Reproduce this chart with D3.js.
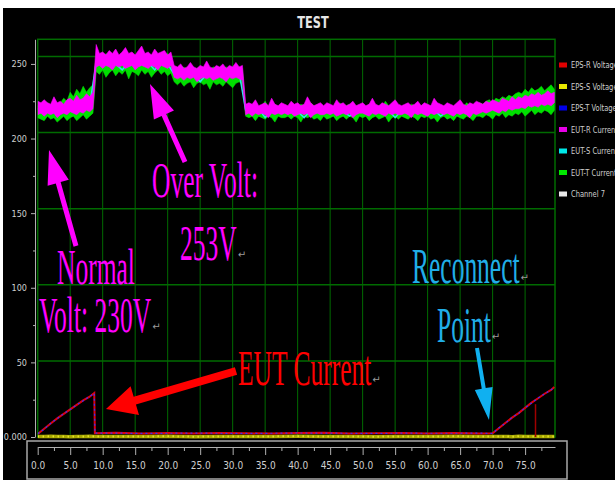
<!DOCTYPE html>
<html><head><meta charset="utf-8">
<script src="https://cdn.jsdelivr.net/npm/d3@7"></script>
<style>body{margin:0;background:#fff}svg{display:block}</style>
</head><body><svg id="c" width="615" height="480"></svg>
<script>
// ---------------- data ----------------
const xTicks = [0,5,10,15,20,25,30,35,40,45,50,55,60,65,70,75];
const yTicks = [0,50,100,150,200,250];
const gridY = [51,102,153,204,255];
const legendNames = ["EPS-R Voltage","EPS-S Voltage","EPS-T Voltage","EUT-R Current","EUT-S Current","EUT-T Current","Channel 7"];
const legendColors = ["#e00000","#e8e800","#0000e8","#e800e8","#00e8e8","#00e800","#e8e8e8"];

// high-rate voltage band traces, one sample per 0.5 s
const noiseStep = 0.5;
const eutRHi = [225,224,226,224,223,228,224,225,223,226,227,225,229,226,227,230,228,231,
 263,257,258,256,259,257,260,256,258,261,257,258,256,259,262,257,258,256,260,257,258,259,256,258,
 249,248,250,247,248,251,248,247,249,248,252,248,247,249,248,250,247,249,248,251,248,249,
 223,224,223,226,222,223,224,222,227,223,222,224,
 223,222,225,223,224,222,223,228,224,222,223,224,
 222,224,223,222,226,223,224,222,223,225,222,223,
 224,222,223,227,223,222,224,223,222,224,226,223,
 222,223,224,222,223,225,222,224,223,222,227,224,
 223,222,224,223,222,224,226,223,222,224,223,225,
 224,223,225,224,226,225,224,227,226,225,228,226,
 228,227,229,228,230,229,231,229,230,232,230,231];
const eutRLo = [216,217,215,217,216,217,214,216,217,216,218,217,216,218,217,219,218,220,
 248,249,247,249,248,246,249,248,249,247,248,249,246,248,249,248,247,249,248,246,249,248,247,249,
 241,240,241,239,241,240,241,238,240,241,240,241,239,240,241,240,238,241,240,241,240,239,
 216,217,215,217,216,217,216,214,217,216,217,216,
 217,216,217,215,216,217,216,217,214,216,217,216,
 216,217,216,217,215,216,217,216,217,214,216,217,
 217,216,215,217,216,217,216,215,217,216,217,216,
 216,217,216,214,217,216,217,216,215,217,216,217,
 217,216,217,216,215,217,216,217,216,214,217,216,
 217,218,217,218,219,218,217,219,218,220,219,220,
 220,221,220,222,221,222,221,223,222,223,222,224];
const eutTHi = [222,223,222,224,222,225,223,224,227,225,231,228,233,230,235,231,234,236,
 255,256,254,257,255,256,254,255,257,254,256,255,254,256,255,257,254,256,255,254,256,255,257,254,
 246,247,246,248,245,247,246,247,248,246,247,246,248,247,246,247,248,246,247,246,248,247,
 221,222,221,223,221,222,225,221,222,223,221,222,
 222,221,223,222,221,223,222,221,224,222,221,223,
 221,223,222,221,222,224,221,222,223,221,222,221,
 222,221,223,222,221,222,221,225,222,221,223,222,
 221,222,221,223,222,221,222,223,221,222,221,223,
 222,221,223,222,221,223,222,221,224,222,221,223,
 224,223,225,226,224,227,226,228,227,229,228,230,
 231,230,233,231,234,232,233,235,232,234,236,233];
const eutTLo = [214,213,212,215,213,214,211,213,215,212,214,215,212,214,216,213,215,217,
 245,243,246,241,244,246,242,245,243,246,240,245,244,242,246,243,245,241,244,246,243,245,242,244,
 238,236,238,235,237,238,234,237,238,236,237,233,238,236,237,235,238,236,234,237,238,236,
 215,214,215,212,215,214,213,215,214,211,215,214,
 214,215,213,215,214,211,215,214,215,213,214,212,
 215,213,214,215,212,214,215,213,215,214,211,215,
 214,215,212,214,215,213,214,215,211,214,215,213,
 215,214,213,215,214,212,215,214,215,213,214,211,
 214,215,213,214,212,215,214,213,215,214,212,215,
 215,214,216,215,213,216,215,217,214,216,215,217,
 216,218,215,217,219,216,218,217,219,218,216,219];
// EUT-S, one sample per second
const eutS = [220,219,221,215,220,219,221,220,222,
 251,250,252,250,246,251,250,252,251,246,251,250,
 243,242,244,243,238,243,242,244,243,242,244,
 219,218,220,214,219,218,220,219,218,214,219,220,
 218,219,220,218,215,219,218,220,219,218,219,214,
 219,218,220,219,218,219,215,218,219,220,218,219,
 220,219,221,220,222,221,223,222,224,223,225,224];

// low traces (EUT current ramp)
const lowT = [0,1,2,3,4,5,6,7,8,8.7,8.8,12,16,20,24,28,32,36,40,44,48,52,56,60,64,68,70,71,72,73,74,75,76,77,78,79,79.5];
const epsR = [2,5.5,9,12.5,15.5,18.5,21.5,24.5,27,29.5,2.5,2.8,2.3,2.6,2.4,2.7,2.5,2.3,2.6,2.8,2.4,2.5,2.7,2.3,2.6,2.4,2.5,6,9.5,13,16,19.5,23,26,29,31.5,33.5];
const epsT = [2.2,5.3,9.2,12.3,15.7,18.4,21.6,24.3,27.2,29.3,2.6,2.6,2.4,2.5,2.6,2.5,2.4,2.5,2.7,2.6,2.5,2.4,2.6,2.5,2.5,2.6,2.4,6.2,9.3,13.2,15.8,19.6,22.8,26.2,28.8,31.7,33.3];
const epsS = [0.4,0.3,0.5,0.3,0.4,0.2,0.4,0.3,0.5,0.4,0.3,0.4,0.3,0.5,0.2,0.4,0.3,0.4,0.5,0.3,0.4,0.2,0.4,0.3,0.5,0.3,0.4,0.3,0.4,0.2,0.5,0.3,0.4,0.3,0.4,0.3,0.4];
const spikeT = [76.6,76.6];
const spikeV = [0,22];

// annotations
const notes = [
 {t:"Over Volt:", x:152, y:197, c:"#ff00ff", ret:false},
 {t:"253V", x:180, y:260, c:"#ff00ff", ret:true},
 {t:"Normal", x:57, y:284, c:"#ff00ff", ret:false},
 {t:"Volt: 230V", x:39, y:332, c:"#ff00ff", ret:true},
 {t:"EUT Current", x:238, y:385, c:"#ff0000", ret:true},
 {t:"Reconnect", x:412, y:283, c:"#20aee8", ret:true},
 {t:"Point", x:437, y:342, c:"#20aee8", ret:true}
];

// ---------------- drawing ----------------
const svg = d3.select("#c");
svg.append("rect").attr("width",615).attr("height",480).attr("fill","#fff");
svg.append("rect").attr("x",3).attr("y",8).attr("width",612).attr("height",472).attr("fill","#000");

const x = d3.scaleLinear().domain([0,79.6]).range([37.7,555]);
const y = d3.scaleLinear().domain([0,266.5]).range([437,39.3]);
const condensed = "'DejaVu Sans Condensed','Liberation Sans Narrow',sans-serif";

svg.append("g").attr("transform","translate(313,28) scale(0.9,1.1)")
  .append("text").attr("text-anchor","middle")
  .attr("font-family",condensed).attr("font-weight","bold").attr("font-size",14)
  .attr("fill","#e6e6e6").text("TEST");

// grid
const grid = svg.append("g");
grid.selectAll(".v").data(xTicks.slice(1)).join("line")
  .attr("x1",d=>x(d)).attr("x2",d=>x(d)).attr("y1",y(266.5)).attr("y2",y(0))
  .attr("stroke","#006b00").attr("stroke-width",1);
grid.selectAll(".h").data(gridY).join("line")
  .attr("x1",x(0)).attr("x2",x(79.6)).attr("y1",d=>y(d)).attr("y2",d=>y(d))
  .attr("stroke","#006b00").attr("stroke-width",1.5);
grid.append("rect").attr("x",x(0)).attr("y",y(266.5)).attr("width",x(79.6)-x(0)).attr("height",y(0)-y(266.5))
  .attr("fill","none").attr("stroke","#006b00").attr("stroke-width",1.5);

svg.append("clipPath").attr("id","clip").append("rect")
  .attr("x",x(0)).attr("y",y(266.5)).attr("width",x(79.6)-x(0)).attr("height",y(0)-y(266.5)+3);
const plot = svg.append("g").attr("clip-path","url(#clip)");

const band = (hi,lo) => d3.area().x((d,i)=>x(i*noiseStep)).y0((d,i)=>y(lo[i])).y1((d,i)=>y(hi[i]))(hi);
plot.append("path").attr("d",band(eutTHi,eutTLo)).attr("fill","#00e000").attr("stroke","#00e000").attr("stroke-width",0.6);
plot.append("path").attr("d",d3.line().x((d,i)=>x(i)).y(d=>y(d))(eutS)).attr("fill","none").attr("stroke","#30e0e8").attr("stroke-width",1.5);
plot.append("path").attr("d",band(eutRHi,eutRLo)).attr("fill","#ff00ff").attr("stroke","#ff00ff").attr("stroke-width",0.6);

const lowLine = vals => d3.line().x((d,i)=>x(lowT[i])).y(d=>y(d))(vals);
plot.append("path").attr("d",lowLine(epsS)).attr("fill","none").attr("stroke","#a8a800").attr("stroke-width",3.5);
plot.append("path").attr("d",lowLine(epsS)).attr("fill","none").attr("stroke","#ffff40").attr("stroke-width",2).attr("stroke-dasharray","1,4");
plot.append("path").attr("d",d3.line().x(d=>x(d)).y((d,i)=>y(spikeV[i]))(spikeT)).attr("fill","none").attr("stroke","#a00000").attr("stroke-width",1.5);
plot.append("path").attr("d",lowLine(epsR)).attr("fill","none").attr("stroke","#e00010").attr("stroke-width",2);
plot.append("path").attr("d",lowLine(epsT)).attr("fill","none").attr("stroke","#3030ff").attr("stroke-width",1.2).attr("stroke-dasharray","2,3");

// y axis
const yAx = svg.append("g").attr("transform","translate(35,0)")
  .call(d3.axisLeft(y).tickValues(yTicks).tickFormat(d=>d===0?"0.000":d).tickSize(4).tickSizeOuter(0));
svg.append("g").attr("transform","translate(35,0)")
  .call(d3.axisLeft(y).tickValues([25,75,125,175,225]).tickFormat("").tickSize(2).tickSizeOuter(0))
  .select(".domain").remove();
svg.selectAll(".tick line, .domain").attr("stroke","#b0b0b0");
yAx.selectAll("text").attr("fill","#cfcfcf").attr("font-family",condensed).attr("font-size",9).attr("dx",-1);

// x axis box
svg.append("rect").attr("x",27).attr("y",441).attr("width",540).attr("height",38)
  .attr("fill","#000").attr("stroke","#a8a8a8").attr("stroke-width",1.5);
const xAx = svg.append("g").attr("transform","translate(0,447)")
  .call(d3.axisBottom(x).tickValues(xTicks).tickFormat(d3.format(".1f")).tickSize(8).tickPadding(7).tickSizeOuter(0));
svg.append("g").attr("transform","translate(0,447)")
  .call(d3.axisBottom(x).tickValues([2.5,7.5,12.5,17.5,22.5,27.5,32.5,37.5,42.5,47.5,52.5,57.5,62.5,67.5,72.5,77.5]).tickFormat("").tickSize(4).tickSizeOuter(0))
  .select(".domain").remove();
svg.selectAll(".tick line, .domain").attr("stroke","#b0b0b0");
xAx.selectAll("text").attr("fill","#cfcfcf").attr("font-family",condensed).attr("font-size",10);

// legend
const leg = svg.append("g");
legendNames.forEach((n,i)=>{
  const ly = 65 + i*21.5;
  leg.append("rect").attr("x",559).attr("y",ly-2.5).attr("width",8).attr("height",5).attr("fill",legendColors[i]);
  leg.append("g").attr("transform",`translate(571,${ly+3}) scale(0.88,1.05)`)
    .append("text").attr("font-family",condensed).attr("font-size",8.5)
    .attr("fill","#cfcfcf").text(n);
});

// arrows
function arrow(x1,y1,x2,y2,sw,hl,hw,col){
  const dx=x2-x1, dy=y2-y1, L=Math.hypot(dx,dy), ux=dx/L, uy=dy/L, nx=-uy, ny=ux;
  const bx=x2-ux*hl, by=y2-uy*hl;
  const p=[[x1+nx*sw/2,y1+ny*sw/2],[bx+nx*sw/2,by+ny*sw/2],[bx+nx*hw/2,by+ny*hw/2],[x2,y2],
           [bx-nx*hw/2,by-ny*hw/2],[bx-nx*sw/2,by-ny*sw/2],[x1-nx*sw/2,y1-ny*sw/2]];
  svg.append("polygon").attr("points",p.map(q=>q.join(",")).join(" ")).attr("fill",col);
}
arrow(185,162,150,84,5,34,22,"#ff00ff");
arrow(76,246,49,150,5,34,22,"#ff00ff");
arrow(236,371,106,409,8,30,30,"#ff0000");
arrow(477,348,489,420,4,32,18,"#10b0f0");

// annotation texts
notes.forEach(n=>{
  const g = svg.append("g").attr("transform",`translate(${n.x},${n.y}) scale(1,1.95)`);
  const t = g.append("text").attr("x",0).attr("y",0).attr("font-family","'Liberation Serif','Times New Roman',serif")
    .attr("font-size",25.5).attr("fill",n.c).text(n.t);
  if(n.ret){
    const w = t.node().getComputedTextLength();
    svg.append("text").attr("x",n.x+w+1).attr("y",n.y-2).attr("font-family","'DejaVu Sans',sans-serif")
      .attr("font-size",10).attr("fill","#9a9a9a").text("↵");
  }
});
</script></body></html>
